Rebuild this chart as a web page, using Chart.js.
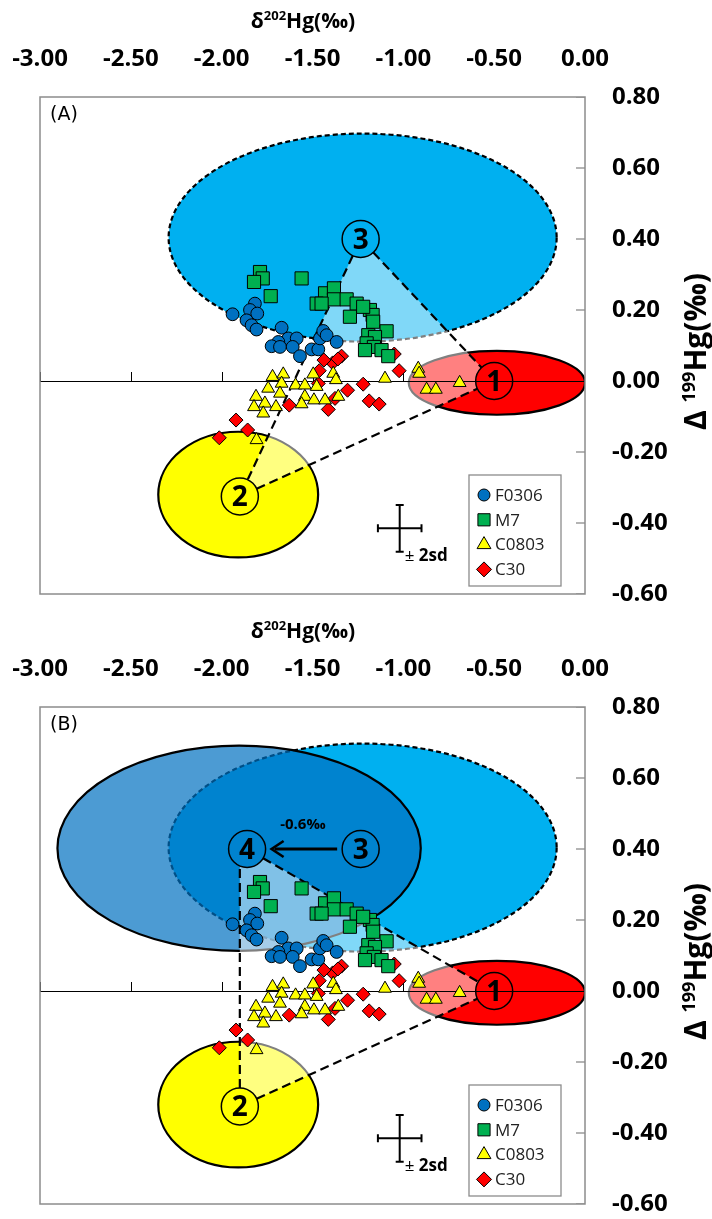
<!DOCTYPE html>
<html><head><meta charset="utf-8">
<script src="https://cdn.jsdelivr.net/npm/chart.js@4/dist/chart.umd.min.js"></script>
<style>
html,body{margin:0;padding:0;background:#fff;}
#wrap{width:712px;height:1219px;position:relative;overflow:hidden;}
canvas{position:absolute;left:0;}
</style></head><body>
<div id="wrap">
<canvas id="cA" width="712" height="610" style="top:0"></canvas>
<canvas id="cB" width="712" height="609" style="top:610px"></canvas>
</div>
<script>
// ---------- data ----------
const xTickValues = [-3.0, -2.5, -2.0, -1.5, -1.0, -0.5, 0.0];
const yTickValues = [-0.6, -0.4, -0.2, 0.0, 0.2, 0.4, 0.6, 0.8];
const seriesNames = ['F0306', 'M7', 'C0803', 'C30'];

const F0306_x = [-1.817,-1.844,-1.804,-1.940,-1.863,-1.835,-1.808,-1.670,-1.633,-1.587,-1.688,-1.725,-1.679,-1.609,-1.569,-1.505,-1.468,-1.459,-1.441,-1.422,-1.367];
const F0306_y = [0.218,0.200,0.190,0.188,0.171,0.157,0.145,0.150,0.120,0.120,0.110,0.098,0.096,0.096,0.070,0.089,0.089,0.120,0.141,0.129,0.110];

const M7_x = [-1.789,-1.774,-1.822,-1.560,-1.730,-1.431,-1.382,-1.382,-1.477,-1.450,-1.312,-1.257,-1.294,-1.184,-1.169,-1.166,-1.092,-1.193,-1.156,-1.202,-1.162,-1.120,-1.083,-1.211,-1.221];
const M7_y = [0.307,0.289,0.279,0.289,0.239,0.247,0.261,0.230,0.218,0.218,0.230,0.218,0.181,0.200,0.186,0.167,0.140,0.129,0.124,0.106,0.096,0.087,0.070,0.087,0.209];

const C0803_x = [-1.720,-1.661,-1.670,-1.744,-1.593,-1.542,-1.496,-1.477,-1.386,-1.371,-1.811,-1.679,-1.542,-1.492,-1.762,-1.822,-1.701,-1.560,-1.771,-1.431,-1.358,-1.101,-0.918,-0.913,-0.872,-0.821,-1.808,-0.690];
const C0803_y = [0.012,0.019,-0.007,-0.021,-0.012,-0.012,0.019,-0.016,0.021,0.003,-0.044,-0.035,-0.044,-0.054,-0.063,-0.073,-0.073,-0.065,-0.091,-0.054,-0.044,0.007,0.035,0.021,-0.024,-0.024,-0.166,-0.005];

const C30_x = [-1.050,-1.023,-1.340,-1.389,-1.437,-1.463,-1.468,-1.628,-1.413,-1.376,-1.307,-1.221,-1.188,-1.133,-1.921,-1.857,-2.013,-1.360];
const C30_y = [0.076,0.029,0.070,0.051,0.059,0.029,-0.007,-0.068,-0.080,-0.049,-0.026,-0.009,-0.056,-0.065,-0.110,-0.138,-0.160,0.062];

// end-member nodes 1..4
const nodeLabels = ['1', '2', '3', '4'];
const nodeX = [-0.50, -1.90, -1.235, -1.86];
const nodeY = [0.00, -0.325, 0.40, 0.40];

// ellipses for end-members 1..4
const ellipseCX = [-0.485, -1.909, -1.224, -1.904];
const ellipseCY = [-0.005, -0.320, 0.404, 0.402];
const ellipseRX = [0.485, 0.44, 1.068, 1.00];
const ellipseRY = [0.090, 0.177, 0.293, 0.289];

// analytical uncertainty cross (±2sd)
const errCenter = [-1.02, -0.415];
const errHalf = [0.12, 0.066];

const shiftText = '-0.6‰';
const shiftTextPos = [-1.553, 0.467];

// ---------- styles ----------
const FONT = '"Open Sans", "DejaVu Sans", sans-serif';
const seriesStyle = [
  {pointStyle: 'circle',   radius: 6.4, color: '#0070C0'},
  {pointStyle: 'rect',     radius: 9.3, color: '#00B050'},
  {pointStyle: 'triangle', radius: 7.4, color: '#FFFF00'},
  {pointStyle: 'rectRot',  radius: 7.0, color: '#FF0000'}
];
const ellipseFill = ['#FF0000', '#FFFF00', '#00B0F0', 'rgba(0,112,192,0.70)'];
const ellipseDash = [[], [], [5, 3], []];
const NODE_R = 18.5;

const panels = {
  A: {label: '(A)', ellipses: [2, 0, 1], nodes: [0, 1, 2],
      overlay: [{n: 0}, {n: 1}, {n: 2}],
      segments: [[2, 1], [2, 0], [1, 0]], vertical: false, arrow: false},
  B: {label: '(B)', ellipses: [2, 3, 0, 1], nodes: [0, 1, 2, 3],
      overlay: [{n: 3}, {n: 0}, {n: 1}, {xn: 1, yn: 3}],
      segments: [[3, 0], [1, 0]], vertical: true, arrow: true}
};

function P(chart, x, y) {
  return {x: chart.scales.x.getPixelForValue(x), y: chart.scales.y.getPixelForValue(y)};
}
function nodePx(chart, i) { return P(chart, nodeX[i], nodeY[i]); }

function drawMarker(ctx, style, x, y, r, fill) {
  ctx.beginPath();
  if (style === 'circle') ctx.arc(x, y, r, 0, Math.PI * 2);
  else if (style === 'rect') { const s = r * Math.SQRT1_2; ctx.rect(x - s, y - s, 2 * s, 2 * s); }
  else if (style === 'triangle') {
    ctx.moveTo(x, y - r); ctx.lineTo(x + r * 0.866, y + r * 0.5); ctx.lineTo(x - r * 0.866, y + r * 0.5); ctx.closePath();
  } else { ctx.moveTo(x - r, y); ctx.lineTo(x, y - r); ctx.lineTo(x + r, y); ctx.lineTo(x, y + r); ctx.closePath(); }
  ctx.fillStyle = fill; ctx.fill();
  ctx.lineWidth = 1; ctx.strokeStyle = '#000'; ctx.stroke();
}

// text with a superscript part: parts = [[text, size, rise, weight]]
function richText(ctx, parts, x, y, align) {
  let w = 0;
  parts.forEach(p => { ctx.font = p[3] + ' ' + p[1] + 'px ' + FONT; w += ctx.measureText(p[0]).width; });
  let cx = align === 'center' ? x - w / 2 : x;
  ctx.textAlign = 'left'; ctx.textBaseline = 'alphabetic';
  parts.forEach(p => {
    ctx.font = p[3] + ' ' + p[1] + 'px ' + FONT;
    ctx.fillText(p[0], cx, y - p[2]);
    cx += ctx.measureText(p[0]).width;
  });
}

const hgPlugin = {
  id: 'hg',
  beforeDatasetsDraw(chart, args, opts) {
    const panel = panels[opts.panel];
    const ctx = chart.ctx, ca = chart.chartArea;
    const sx = chart.scales.x, sy = chart.scales.y;
    ctx.save();
    ctx.beginPath(); ctx.rect(ca.left, ca.top, ca.right - ca.left, ca.bottom - ca.top); ctx.clip();

    // inner ticks of the value axis
    ctx.strokeStyle = '#8c8c8c'; ctx.lineWidth = 1.3;
    yTickValues.forEach(v => {
      const y = sy.getPixelForValue(v);
      ctx.beginPath(); ctx.moveTo(ca.right - 9, y); ctx.lineTo(ca.right, y); ctx.stroke();
    });

    // ellipses
    panel.ellipses.forEach(i => {
      const c = P(chart, ellipseCX[i], ellipseCY[i]);
      const rx = Math.abs(sx.getPixelForValue(ellipseCX[i] + ellipseRX[i]) - c.x);
      const ry = Math.abs(sy.getPixelForValue(ellipseCY[i] + ellipseRY[i]) - c.y);
      ctx.beginPath(); ctx.ellipse(c.x, c.y, rx, ry, 0, 0, Math.PI * 2);
      ctx.fillStyle = ellipseFill[i]; ctx.fill();
      ctx.setLineDash(ellipseDash[i]); ctx.lineWidth = 2.2; ctx.strokeStyle = '#000'; ctx.stroke();
      ctx.setLineDash([]);
    });

    // mixing-area overlay (semi-transparent white), excluding node circles
    ctx.save();
    ctx.beginPath();
    ctx.rect(0, 0, chart.width, chart.height);
    panel.nodes.forEach(i => { const n = nodePx(chart, i); ctx.moveTo(n.x + NODE_R, n.y); ctx.arc(n.x, n.y, NODE_R, 0, Math.PI * 2); });
    ctx.clip('evenodd');
    ctx.beginPath();
    panel.overlay.forEach((v, k) => {
      const p = v.n !== undefined ? nodePx(chart, v.n) : P(chart, nodeX[v.xn], nodeY[v.yn]);
      if (k === 0) ctx.moveTo(p.x, p.y); else ctx.lineTo(p.x, p.y);
    });
    ctx.closePath();
    ctx.fillStyle = 'rgba(255,255,255,0.5)'; ctx.fill();
    ctx.restore();

    // horizontal axis line at 0 with ticks
    const y0 = sy.getPixelForValue(0);
    ctx.strokeStyle = '#000'; ctx.lineWidth = 1;
    ctx.beginPath(); ctx.moveTo(ca.left, y0 + 0.5); ctx.lineTo(ca.right, y0 + 0.5); ctx.stroke();
    xTickValues.forEach(v => {
      const x = Math.round(sx.getPixelForValue(v)) + 0.5;
      ctx.beginPath(); ctx.moveTo(x, y0 - 9); ctx.lineTo(x, y0); ctx.stroke();
    });

    // dashed mixing lines
    ctx.setLineDash([9, 5]); ctx.lineWidth = 2.2; ctx.strokeStyle = '#000';
    panel.segments.forEach(s => {
      const a = nodePx(chart, s[0]), b = nodePx(chart, s[1]);
      const d = Math.hypot(b.x - a.x, b.y - a.y), ux = (b.x - a.x) / d, uy = (b.y - a.y) / d;
      ctx.beginPath(); ctx.moveTo(a.x + ux * NODE_R, a.y + uy * NODE_R); ctx.lineTo(b.x - ux * NODE_R, b.y - uy * NODE_R); ctx.stroke();
    });
    if (panel.vertical) {
      const a = nodePx(chart, 1), t = nodePx(chart, 3);
      const dx = a.x - t.x;
      const yEnd = t.y + Math.sqrt(Math.max(NODE_R * NODE_R - dx * dx, 0));
      ctx.beginPath(); ctx.moveTo(a.x, a.y - NODE_R); ctx.lineTo(a.x, yEnd); ctx.stroke();
    }
    ctx.setLineDash([]);

    // node circles with numbers
    panel.nodes.forEach(i => {
      const n = nodePx(chart, i);
      ctx.beginPath(); ctx.arc(n.x, n.y, NODE_R, 0, Math.PI * 2);
      ctx.lineWidth = 1.5; ctx.strokeStyle = '#000'; ctx.stroke();
      ctx.fillStyle = '#000'; ctx.font = 'bold 28px ' + FONT;
      ctx.textAlign = 'center'; ctx.textBaseline = 'alphabetic';
      ctx.fillText(nodeLabels[i], n.x, n.y + 10);
    });

    // shift arrow 3 -> 4
    if (panel.arrow) {
      const a = nodePx(chart, 2), b = nodePx(chart, 3);
      const x1 = a.x - NODE_R - 5, x2 = b.x + NODE_R + 6;
      ctx.strokeStyle = '#000'; ctx.lineWidth = 3;
      ctx.beginPath(); ctx.moveTo(x1, a.y); ctx.lineTo(x2 + 3, b.y); ctx.stroke();
      ctx.lineWidth = 2.6;
      ctx.beginPath(); ctx.moveTo(x2 + 12, b.y - 8); ctx.lineTo(x2, b.y); ctx.lineTo(x2 + 12, b.y + 8); ctx.stroke();
      const tp = P(chart, shiftTextPos[0], shiftTextPos[1]);
      ctx.fillStyle = '#000'; ctx.font = 'bold 15px ' + FONT;
      ctx.textAlign = 'center'; ctx.textBaseline = 'middle';
      ctx.fillText(shiftText, tp.x, tp.y);
    }

    // ±2sd cross
    const ec = P(chart, errCenter[0], errCenter[1]);
    const ex = Math.abs(sx.getPixelForValue(errCenter[0] + errHalf[0]) - ec.x);
    const ey = Math.abs(sy.getPixelForValue(errCenter[1] + errHalf[1]) - ec.y);
    ctx.strokeStyle = '#000'; ctx.lineWidth = 2;
    ctx.beginPath();
    ctx.moveTo(ec.x - ex, ec.y); ctx.lineTo(ec.x + ex, ec.y);
    ctx.moveTo(ec.x, ec.y - ey); ctx.lineTo(ec.x, ec.y + ey);
    ctx.moveTo(ec.x - ex, ec.y - 4); ctx.lineTo(ec.x - ex, ec.y + 4);
    ctx.moveTo(ec.x + ex, ec.y - 4); ctx.lineTo(ec.x + ex, ec.y + 4);
    ctx.moveTo(ec.x - 4, ec.y - ey); ctx.lineTo(ec.x + 4, ec.y - ey);
    ctx.moveTo(ec.x - 4, ec.y + ey); ctx.lineTo(ec.x + 4, ec.y + ey);
    ctx.stroke();
    ctx.fillStyle = '#000';
    richText(ctx, [['±', 17, 0, 'normal'], [' 2sd', 17, 0, 'bold']], ec.x + 5, ec.y + 33, 'left');

    // panel label
    ctx.font = '19px "DejaVu Sans", sans-serif'; ctx.textAlign = 'left'; ctx.textBaseline = 'middle';
    ctx.fillText(panel.label, ca.left + 10, ca.top + 18);
    ctx.restore();
  },
  afterDatasetsDraw(chart) {
    const ctx = chart.ctx, ca = chart.chartArea;
    ctx.save();
    // plot border
    ctx.strokeStyle = '#8c8c8c'; ctx.lineWidth = 1.5;
    ctx.strokeRect(ca.left, ca.top, ca.right - ca.left, ca.bottom - ca.top);

    // legend
    const lx = ca.right - 116, ly = ca.bottom - 119, lw = 92, lh = 111;
    ctx.fillStyle = '#fff'; ctx.fillRect(lx, ly, lw, lh);
    ctx.strokeStyle = '#8c8c8c'; ctx.lineWidth = 1.3; ctx.strokeRect(lx, ly, lw, lh);
    seriesNames.forEach((name, i) => {
      const yy = ly + 20 + i * 24.8;
      const st = seriesStyle[i];
      const r = st.pointStyle === 'rect' ? 8.6 : st.pointStyle === 'triangle' ? 8 : st.pointStyle === 'rectRot' ? 7.5 : 6;
      drawMarker(ctx, st.pointStyle, lx + 15, yy, r, st.color);
      ctx.fillStyle = '#222'; ctx.font = '17px ' + FONT;
      ctx.textAlign = 'left'; ctx.textBaseline = 'middle';
      ctx.fillText(name, lx + 26, yy + 1);
    });

    // top axis title
    ctx.fillStyle = '#000';
    richText(ctx, [['δ', 21, 0, 'bold'], ['202', 13, 8, 'bold'], ['Hg(‰)', 21, 0, 'bold']], 303, 28, 'center');

    // right axis title (rotated, reading upward)
    ctx.translate(697, (ca.top + ca.bottom) / 2 + 6);
    ctx.rotate(-Math.PI / 2);
    richText(ctx, [['Δ ', 30, 0, 'bold'], ['199', 18, 11, 'bold'], ['Hg(‰)', 30, 0, 'bold']], 0, 9, 'center');
    ctx.restore();
  }
};

function makeDatasets() {
  const xs = [F0306_x, M7_x, C0803_x, C30_x], ys = [F0306_y, M7_y, C0803_y, C30_y];
  return seriesNames.map((name, i) => ({
    label: name,
    data: xs[i].map((x, k) => ({x: x, y: ys[i][k]})),
    pointStyle: seriesStyle[i].pointStyle,
    pointRadius: seriesStyle[i].radius,
    backgroundColor: seriesStyle[i].color,
    borderColor: '#000',
    borderWidth: 1,
    showLine: false
  }));
}

function makeChart(id, panelKey, padBottom) {
  const tickFont = {family: FONT, weight: 'bold', size: 24};
  return new Chart(document.getElementById(id), {
    type: 'scatter',
    data: {datasets: makeDatasets()},
    options: {
      responsive: false, animation: false, events: [],
      layout: {padding: {left: 40, right: 0, top: 0, bottom: padBottom}, autoPadding: false},
      plugins: {legend: {display: false}, tooltip: {enabled: false}, hg: {panel: panelKey}},
      scales: {
        x: {
          type: 'linear', position: 'top', min: -3, max: 0,
          afterBuildTicks: s => { s.ticks = xTickValues.map(v => ({value: v})); },
          afterFit: s => { s.height = 97; s.paddingLeft = 0; s.paddingRight = 0; s.paddingTop = 0; s.paddingBottom = 0; },
          ticks: {callback: v => Number(v).toFixed(2), font: tickFont, color: '#000', padding: 23, maxRotation: 0, autoSkip: false},
          grid: {display: false, drawTicks: false, tickLength: 0},
          border: {display: false}
        },
        y: {
          type: 'linear', position: 'right', min: -0.6, max: 0.8,
          afterBuildTicks: s => { s.ticks = yTickValues.map(v => ({value: v})); },
          afterFit: s => { s.width = 127; s.paddingLeft = 0; s.paddingRight = 0; s.paddingTop = 0; s.paddingBottom = 0; },
          ticks: {callback: v => Number(v).toFixed(2), font: tickFont, color: '#000', padding: 27, autoSkip: false},
          grid: {display: false, drawTicks: false, tickLength: 0},
          border: {display: false}
        }
      }
    },
    plugins: [hgPlugin]
  });
}

makeChart('cA', 'A', 16);
makeChart('cB', 'B', 15);
</script>
</body></html>
